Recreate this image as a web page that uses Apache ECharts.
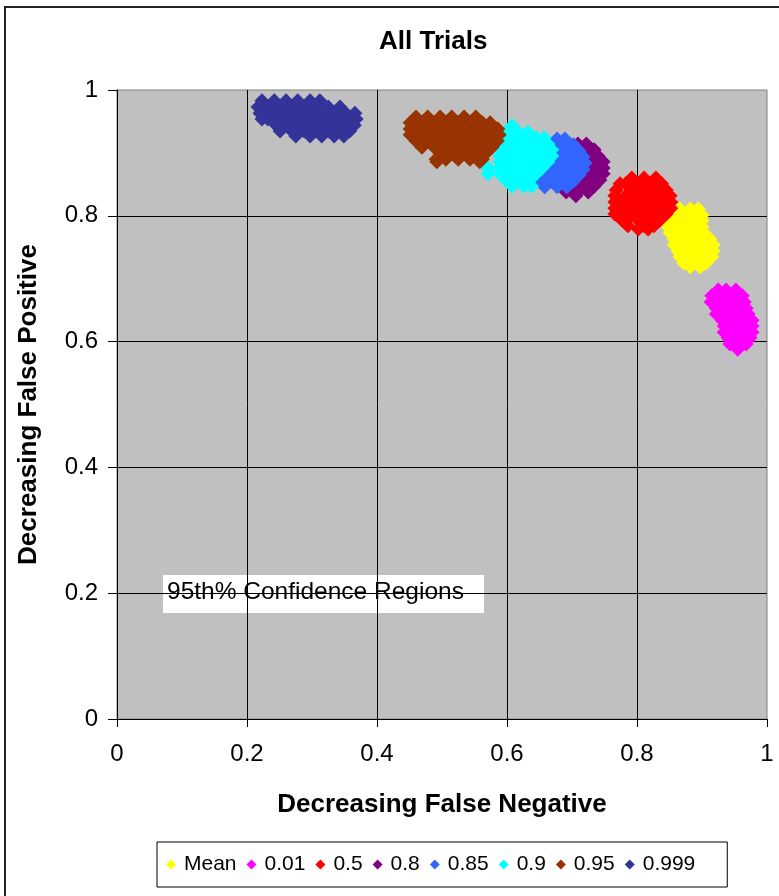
<!DOCTYPE html>
<html>
<head>
<meta charset="utf-8">
<script src="https://cdn.jsdelivr.net/npm/echarts@6/dist/echarts.min.js"></script>
<style>
html,body{margin:0;padding:0;background:#fff;}
#chart{width:779px;height:896px;}
</style>
</head>
<body>
<div id="chart"></div>
<script>
// ---- data ----
const seriesNames = ['Mean', '0.01', '0.5', '0.8', '0.85', '0.9', '0.95', '0.999'];
const xTicks = [0, 0.2, 0.4, 0.6, 0.8, 1];
const yTicks = [0, 0.2, 0.4, 0.6, 0.8, 1];

const meanPts = [
  [0.866,0.811],[0.882,0.811],[0.894,0.811],
  [0.860,0.801],[0.875,0.801],[0.891,0.801],[0.900,0.801],
  [0.851,0.792],[0.866,0.792],[0.885,0.792],[0.900,0.792],
  [0.848,0.782],[0.860,0.782],[0.875,0.782],[0.894,0.782],[0.900,0.782],
  [0.851,0.773],[0.866,0.773],[0.885,0.773],[0.903,0.773],
  [0.857,0.763],[0.875,0.763],[0.894,0.763],[0.912,0.763],
  [0.857,0.754],[0.866,0.754],[0.885,0.754],[0.903,0.754],[0.917,0.754],
  [0.863,0.744],[0.875,0.744],[0.894,0.744],[0.912,0.744],[0.917,0.744],
  [0.866,0.735],[0.885,0.735],[0.903,0.735],[0.915,0.735],
  [0.872,0.725],[0.894,0.725],[0.906,0.725],
  [0.882,0.719],[0.897,0.719]
];
const p001Pts = [
  [0.925,0.682],[0.937,0.682],[0.952,0.682],
  [0.915,0.673],[0.931,0.673],[0.946,0.673],[0.962,0.673],
  [0.914,0.663],[0.922,0.663],[0.940,0.663],[0.958,0.663],[0.965,0.663],
  [0.922,0.653],[0.931,0.653],[0.949,0.653],[0.968,0.653],
  [0.922,0.644],[0.940,0.644],[0.958,0.644],[0.971,0.644],
  [0.931,0.634],[0.949,0.634],[0.968,0.634],[0.977,0.634],
  [0.934,0.625],[0.940,0.625],[0.958,0.625],[0.977,0.625],
  [0.934,0.615],[0.949,0.615],[0.968,0.615],[0.977,0.615],
  [0.940,0.606],[0.958,0.606],[0.974,0.606],
  [0.943,0.596],[0.949,0.596],[0.968,0.596],
  [0.955,0.588]
];
const p05Pts = [
  [0.792,0.860],[0.811,0.860],[0.829,0.860],
  [0.774,0.851],[0.783,0.851],[0.802,0.851],[0.820,0.851],[0.838,0.851],
  [0.768,0.841],[0.792,0.841],[0.811,0.841],[0.829,0.841],[0.845,0.841],
  [0.766,0.832],[0.783,0.832],[0.802,0.832],[0.820,0.832],[0.838,0.832],[0.851,0.832],
  [0.766,0.822],[0.774,0.822],[0.792,0.822],[0.811,0.822],[0.829,0.822],[0.848,0.822],[0.852,0.822],
  [0.766,0.812],[0.783,0.812],[0.802,0.812],[0.820,0.812],[0.838,0.812],[0.852,0.812],
  [0.766,0.803],[0.774,0.803],[0.792,0.803],[0.811,0.803],[0.829,0.803],[0.845,0.803],
  [0.777,0.793],[0.783,0.793],[0.802,0.793],[0.820,0.793],[0.835,0.793],
  [0.786,0.784],[0.811,0.784],[0.826,0.784],
  [0.802,0.779],[0.817,0.779]
];
const p08Pts = [
  [0.694,0.914],[0.709,0.914],[0.722,0.914],
  [0.700,0.905],[0.718,0.905],[0.734,0.905],
  [0.691,0.895],[0.709,0.895],[0.728,0.895],[0.740,0.895],
  [0.700,0.886],[0.718,0.886],[0.737,0.886],[0.748,0.886],
  [0.691,0.876],[0.709,0.876],[0.728,0.876],[0.748,0.876],
  [0.700,0.867],[0.718,0.867],[0.737,0.867],[0.748,0.867],
  [0.691,0.857],[0.709,0.857],[0.728,0.857],[0.743,0.857],
  [0.700,0.847],[0.718,0.847],[0.734,0.847],
  [0.691,0.838],[0.709,0.838],[0.725,0.838],
  [0.706,0.832]
];
const p085Pts = [
  [0.658,0.922],[0.677,0.922],[0.689,0.922],
  [0.652,0.913],[0.668,0.913],[0.686,0.913],[0.702,0.913],
  [0.658,0.903],[0.677,0.903],[0.695,0.903],[0.711,0.903],
  [0.652,0.894],[0.668,0.894],[0.686,0.894],[0.705,0.894],[0.717,0.894],
  [0.658,0.884],[0.677,0.884],[0.695,0.884],[0.714,0.884],[0.720,0.884],
  [0.652,0.874],[0.668,0.874],[0.686,0.874],[0.705,0.874],[0.717,0.874],
  [0.658,0.865],[0.677,0.865],[0.695,0.865],[0.711,0.865],
  [0.652,0.855],[0.668,0.855],[0.686,0.855],[0.702,0.855],
  [0.658,0.846],[0.677,0.846],[0.692,0.846]
];
const p09Pts = [
  [0.608,0.943],
  [0.598,0.933],[0.617,0.933],[0.632,0.933],
  [0.589,0.924],[0.608,0.924],[0.626,0.924],[0.645,0.924],[0.657,0.924],
  [0.589,0.914],[0.598,0.914],[0.617,0.914],[0.635,0.914],[0.654,0.914],[0.663,0.914],
  [0.589,0.905],[0.608,0.905],[0.626,0.905],[0.645,0.905],[0.663,0.905],[0.669,0.905],
  [0.589,0.895],[0.598,0.895],[0.617,0.895],[0.635,0.895],[0.654,0.895],[0.669,0.895],
  [0.589,0.886],[0.608,0.886],[0.626,0.886],[0.645,0.886],[0.663,0.886],
  [0.571,0.876],[0.589,0.876],[0.598,0.876],[0.617,0.876],[0.635,0.876],[0.654,0.876],
  [0.571,0.867],[0.589,0.867],[0.608,0.867],[0.626,0.867],[0.645,0.867],
  [0.598,0.857],[0.617,0.857],[0.635,0.857],
  [0.608,0.847],[0.626,0.847],[0.638,0.847]
];
const p095Pts = [
  [0.460,0.957],[0.478,0.957],[0.497,0.957],[0.515,0.957],[0.534,0.957],[0.552,0.957],
  [0.451,0.948],[0.469,0.948],[0.488,0.948],[0.506,0.948],[0.525,0.948],[0.543,0.948],[0.562,0.948],[0.574,0.948],
  [0.451,0.938],[0.460,0.938],[0.478,0.938],[0.497,0.938],[0.515,0.938],[0.534,0.938],[0.552,0.938],[0.571,0.938],[0.586,0.938],
  [0.451,0.929],[0.469,0.929],[0.488,0.929],[0.506,0.929],[0.525,0.929],[0.543,0.929],[0.562,0.929],[0.580,0.929],[0.588,0.929],
  [0.460,0.919],[0.478,0.919],[0.497,0.919],[0.515,0.919],[0.534,0.919],[0.552,0.919],[0.571,0.919],[0.585,0.919],
  [0.469,0.909],[0.488,0.909],[0.506,0.909],[0.525,0.909],[0.543,0.909],[0.562,0.909],[0.577,0.909],
  [0.497,0.900],[0.515,0.900],[0.534,0.900],[0.552,0.900],[0.568,0.900],
  [0.491,0.890],[0.506,0.890],[0.525,0.890],[0.543,0.890],[0.562,0.890],
  [0.492,0.886],[0.558,0.886]
];
const p0999Pts = [
  [0.223,0.983],[0.242,0.983],[0.260,0.983],[0.278,0.983],[0.297,0.983],[0.312,0.983],
  [0.217,0.973],[0.232,0.973],[0.251,0.973],[0.269,0.973],[0.288,0.973],[0.306,0.973],[0.325,0.973],[0.343,0.973],
  [0.220,0.963],[0.242,0.963],[0.260,0.963],[0.278,0.963],[0.297,0.963],[0.315,0.963],[0.334,0.963],[0.352,0.963],[0.366,0.963],
  [0.223,0.954],[0.232,0.954],[0.251,0.954],[0.269,0.954],[0.288,0.954],[0.306,0.954],[0.325,0.954],[0.343,0.954],[0.362,0.954],[0.368,0.954],
  [0.245,0.944],[0.260,0.944],[0.278,0.944],[0.297,0.944],[0.315,0.944],[0.334,0.944],[0.352,0.944],[0.365,0.944],
  [0.251,0.935],[0.269,0.935],[0.288,0.935],[0.306,0.935],[0.325,0.935],[0.343,0.935],[0.358,0.935],
  [0.275,0.927],[0.297,0.927],[0.315,0.927],[0.334,0.927],[0.349,0.927]
];
const seriesData = [meanPts, p001Pts, p05Pts, p08Pts, p085Pts, p09Pts, p095Pts, p0999Pts];
const annotationText = '95th% Confidence Regions';

// ---- styles ----
const colors = ['#FFFF00', '#FF00FF', '#FF0000', '#800080', '#3366FF', '#00FFFF', '#993300', '#333399'];
const FONT = '"Liberation Sans", Arial, sans-serif';

const chart = echarts.init(document.getElementById('chart'), null, {renderer: 'canvas'});

const option = {
  animation: false,
  backgroundColor: '#ffffff',
  textStyle: {fontFamily: FONT},
  title: {
    text: 'All Trials',
    left: 374, top: 24,
    textStyle: {fontSize: 26, fontWeight: 'bold', color: '#000', fontFamily: FONT}
  },
  grid: {
    left: 117, top: 90, width: 650, height: 629,
    show: true, backgroundColor: '#C0C0C0', borderColor: '#808080', borderWidth: 1
  },
  xAxis: {
    type: 'value', min: xTicks[0], max: xTicks[xTicks.length - 1], interval: xTicks[1] - xTicks[0],
    name: 'Decreasing False Negative', nameLocation: 'middle', nameGap: 73,
    nameTextStyle: {fontSize: 26, fontWeight: 'bold', color: '#000', fontFamily: FONT},
    axisLine: {show: true, onZero: false, lineStyle: {color: '#000', width: 1}},
    axisTick: {show: true, inside: false, length: 8, lineStyle: {color: '#000'}},
    axisLabel: {fontSize: 24, color: '#000', margin: 23, fontFamily: FONT},
    splitLine: {show: true, showMinLine: false, showMaxLine: false, lineStyle: {color: '#000', width: 1}}
  },
  yAxis: {
    type: 'value', min: yTicks[0], max: yTicks[yTicks.length - 1], interval: yTicks[1] - yTicks[0],
    name: 'Decreasing False Positive', nameLocation: 'middle', nameGap: 75,
    nameTextStyle: {fontSize: 26, fontWeight: 'bold', color: '#000', fontFamily: FONT},
    axisLine: {show: true, onZero: false, lineStyle: {color: '#000', width: 1}},
    axisTick: {show: true, inside: false, length: 9, lineStyle: {color: '#000'}},
    axisLabel: {fontSize: 24, color: '#000', margin: 19, fontFamily: FONT},
    splitLine: {show: true, showMinLine: false, showMaxLine: false, lineStyle: {color: '#000', width: 1}}
  },
  legend: {
    data: seriesNames.map(n => ({name: n, icon: 'diamond'})),
    left: 157, top: 842,
    orient: 'horizontal',
    padding: [12, 32, 12, 9],
    itemGap: 10, itemWidth: 10, itemHeight: 10,
    backgroundColor: '#fff', borderColor: '#000', borderWidth: 1, borderRadius: 0,
    textStyle: {fontSize: 21, color: '#000', fontFamily: FONT, padding: [0, 0, 0, 3]},
    selectedMode: false
  },
  graphic: [
    {
      type: 'rect', z: -10, silent: true,
      shape: {x: 5, y: 7, width: 800, height: 920},
      style: {fill: 'none', stroke: '#222', lineWidth: 2}
    },
    {
      type: 'group', z: 100, silent: true,
      children: [
        {type: 'rect', shape: {x: 163, y: 575, width: 321, height: 38}, style: {fill: '#fff', stroke: null}},
        {type: 'text', x: 167, y: 592, style: {text: annotationText, fontSize: 24.5, fontFamily: FONT, fill: '#000', textVerticalAlign: 'middle', verticalAlign: 'middle'}}
      ]
    }
  ],
  series: seriesNames.map((name, i) => ({
    name: name,
    type: 'scatter',
    symbol: 'diamond',
    symbolSize: 15,
    data: seriesData[i],
    itemStyle: {color: colors[i], opacity: 1},
    emphasis: {disabled: true},
    silent: true
  }))
};
chart.setOption(option);
</script>
</body>
</html>
